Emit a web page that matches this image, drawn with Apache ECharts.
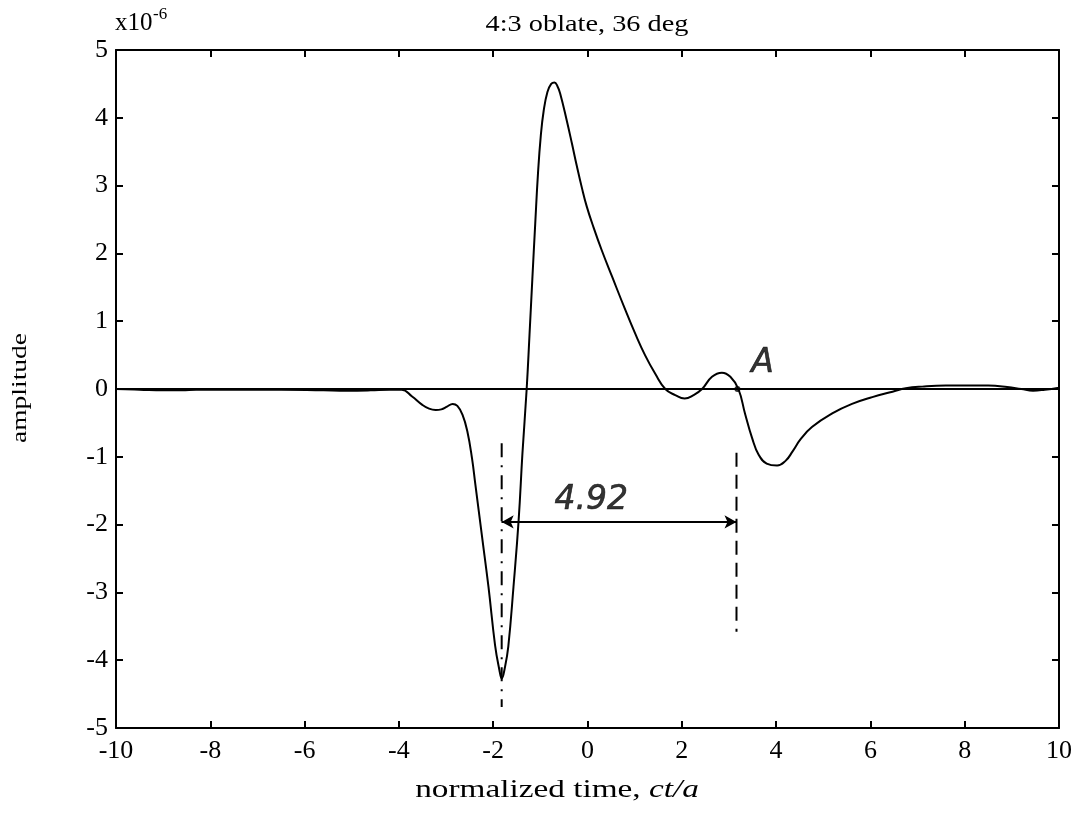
<!DOCTYPE html>
<html><head><meta charset="utf-8">
<script src="https://cdn.jsdelivr.net/npm/echarts@6/dist/echarts.min.js"></script>
<style>html,body{margin:0;padding:0;background:#fff}#c{width:1083px;height:818px}</style>
</head><body><div id="c"></div>
<script>
// Data (amplitude in units of 1e-6)
const timeValues = [-10,-9.5,-9.0,-8.6,-8.3,-7.5,-6.5,-5.6,-5.1,-4.6,-4.2,-3.94,-3.72,-3.51,-3.36,-3.22,-3.10,-2.98,-2.86,-2.76,-2.65,-2.55,-2.45,-2.38,-2.24,-2.10,-1.96,-1.87,-1.82,-1.75,-1.68,-1.57,-1.46,-1.38,-1.29,-1.23,-1.17,-1.11,-1.05,-0.99,-0.93,-0.85,-0.77,-0.70,-0.64,-0.58,-0.44,-0.33,-0.23,-0.12,-0.015,0.13,0.30,0.52,0.80,1.01,1.22,1.44,1.65,1.86,2.06,2.25,2.43,2.64,2.85,3.03,3.20,3.34,3.49,3.63,3.80,4.02,4.20,4.35,4.52,4.76,5.19,5.61,6.04,6.47,6.75,7.1,7.6,8.1,8.5,8.9,9.2,9.45,9.7,10];
const amplitudeValues = [0,-0.01,-0.02,-0.02,-0.01,-0.01,-0.01,-0.02,-0.025,-0.02,-0.01,-0.01,-0.11,-0.23,-0.29,-0.31,-0.30,-0.26,-0.22,-0.25,-0.38,-0.62,-1.02,-1.40,-2.16,-2.92,-3.78,-4.14,-4.27,-4.10,-3.80,-2.92,-1.93,-0.95,0,0.80,1.62,2.42,3.18,3.74,4.10,4.38,4.50,4.52,4.47,4.36,3.96,3.62,3.30,2.97,2.69,2.38,2.05,1.66,1.17,0.82,0.50,0.22,0,-0.09,-0.14,-0.09,0,0.18,0.24,0.18,0,-0.36,-0.72,-0.97,-1.10,-1.13,-1.06,-0.92,-0.74,-0.56,-0.36,-0.22,-0.12,-0.04,0.01,0.035,0.05,0.05,0.05,0.03,0,-0.025,-0.01,0.02];
const xTicks = {min:-10, max:10, step:2};
const yTicks = {min:-5, max:5, step:1};
const zeroLine = [[-10,0],[10,0]];
const dashDotLine = [[-1.82,-0.80],[-1.82,-4.69]];
const dashedLine = [[3.16,-0.94],[3.16,-3.58]];
const arrowSpan = [[-1.82,-1.96],[3.16,-1.96]];
const pointA = [3.18, 0];
const annotations = [{text:'4.92', at:[0.08,-1.64]}, {text:'A', at:[3.71,0.38]}];
const titleText = '4:3 oblate, 36 deg';
const scaleText = ['x10', '-6'];
const xLabelText = ['normalized time, ', 'ct/a'];
const yLabelText = 'amplitude';

const serif = '"Liberation Serif", "Times New Roman", serif';
const hand = '"DejaVu Sans", sans-serif';
const chart = echarts.init(document.getElementById('c'));
const axisCommon = {
  axisLine:{show:true, onZero:false, lineStyle:{color:'#000', width:2}},
  axisTick:{show:true, inside:true, length:7, lineStyle:{color:'#000', width:2}},
  splitLine:{show:false}
};
chart.setOption({
  animation:false,
  backgroundColor:'#fff',
  graphic:[
    {type:'text', x:587, y:25, scaleX:1.18, style:{text:titleText, fontFamily:serif, fontSize:24, fill:'#000', align:'center', verticalAlign:'middle'}},
    {type:'text', x:115, y:36, style:{text:scaleText[0], fontFamily:serif, fontSize:25, fill:'#000', align:'left', verticalAlign:'bottom'}},
    {type:'text', x:153, y:6, style:{text:scaleText[1], fontFamily:serif, fontSize:17, fill:'#000', align:'left', verticalAlign:'top'}},
    {type:'text', x:557, y:790, scaleX:1.28, style:{text:'{n|'+xLabelText[0]+'}{i|'+xLabelText[1]+'}', fill:'#000', align:'center', verticalAlign:'middle',
      rich:{n:{fontFamily:serif, fontSize:26, fill:'#000'}, i:{fontFamily:serif, fontSize:26, fontStyle:'italic', fill:'#000'}}}},
    {type:'text', x:20, y:388, rotation:Math.PI/2, scaleX:1.25, style:{text:yLabelText, fontFamily:serif, fontSize:22, fill:'#000', align:'center', verticalAlign:'middle'}}
  ],
  grid:{left:116, right:24, top:50, bottom:90, containLabel:false},
  xAxis:[
    Object.assign({type:'value', min:xTicks.min, max:xTicks.max, interval:xTicks.step, position:'bottom',
      axisLabel:{fontFamily:serif, fontSize:26, color:'#000', margin:10}}, axisCommon),
    Object.assign({type:'value', min:xTicks.min, max:xTicks.max, interval:xTicks.step, position:'top', axisLabel:{show:false}}, axisCommon)
  ],
  yAxis:[
    Object.assign({type:'value', min:yTicks.min, max:yTicks.max, interval:yTicks.step, position:'left',
      axisLabel:{fontFamily:serif, fontSize:26, color:'#000', margin:8}}, axisCommon),
    Object.assign({type:'value', min:yTicks.min, max:yTicks.max, interval:yTicks.step, position:'right', axisLabel:{show:false}}, axisCommon)
  ],
  series:[
    {type:'line', data:zeroLine, symbol:'none', lineStyle:{color:'#000', width:2}, silent:true},
    {type:'line', data:timeValues.map((t,i)=>[t, amplitudeValues[i]]), symbol:'none', smooth:0.45, lineStyle:{color:'#000', width:2}},
    {type:'line', data:dashDotLine, symbol:'none', lineStyle:{color:'#000', width:2, type:[14,8,2,8]}},
    {type:'line', data:dashedLine, symbol:'none', lineStyle:{color:'#000', width:2, type:[14,8]}},
    {type:'line', data:arrowSpan, symbol:'none', lineStyle:{color:'#000', width:2},
      markLine:{silent:true, symbol:['arrow','arrow'], symbolSize:[10,12], label:{show:false}, lineStyle:{color:'#000', width:2, type:'solid'},
        data:[[{coord:arrowSpan[0]},{coord:arrowSpan[1]}]]}},
    {type:'scatter', data:[pointA], symbol:'circle', symbolSize:6, itemStyle:{color:'#000'}},
    {type:'scatter', data:annotations.map(a=>({value:a.at, name:a.text})), symbolSize:0,
      label:{show:true, position:'inside', formatter:p=>p.name, fontFamily:hand, fontStyle:'italic', fontSize:33, color:'#000', textBorderColor:'#000', textBorderWidth:0.6}}
  ]
});
</script></body></html>
